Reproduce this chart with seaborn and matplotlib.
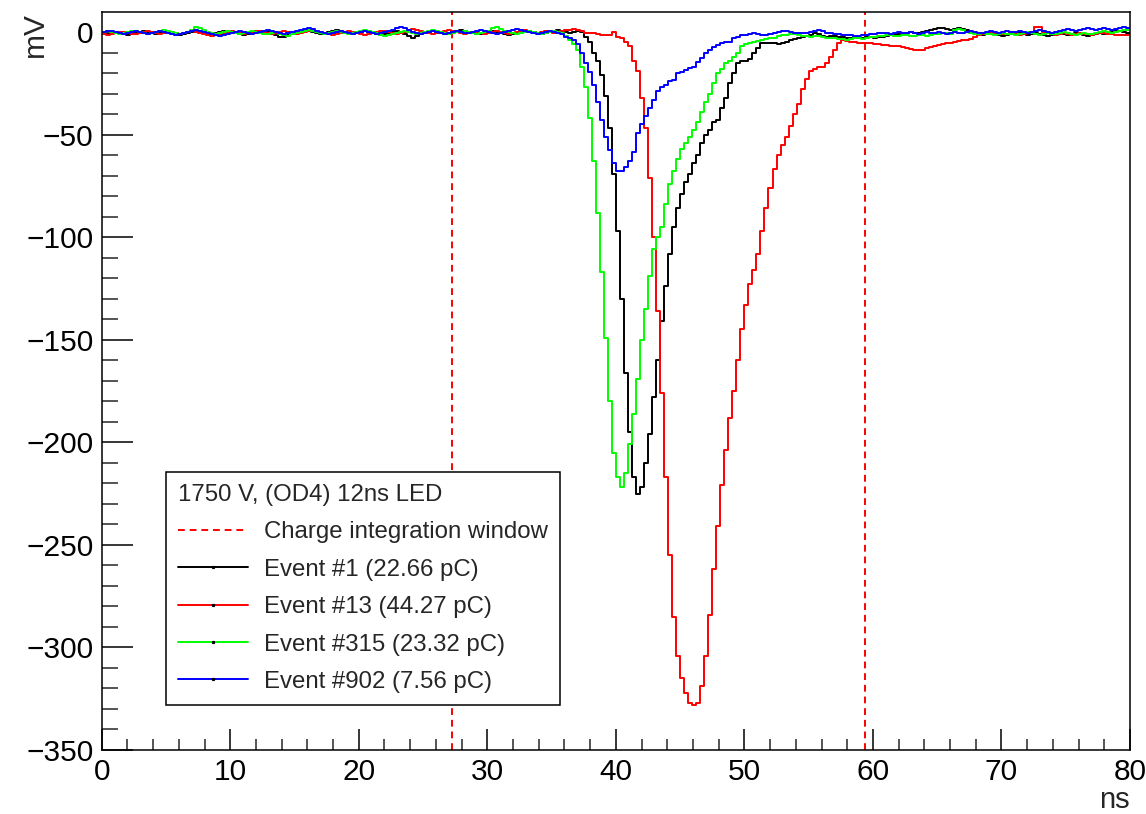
import numpy as np
import pandas as pd
import matplotlib
matplotlib.use("Agg")
import matplotlib.pyplot as plt
import seaborn as sns
from matplotlib.lines import Line2D
from matplotlib.ticker import MultipleLocator

# ---------------- data ----------------
BIN_WIDTH_NS = 0.3125          # 256 bins over 0..80 ns
window_ns = [27.25, 59.35]     # charge integration window
legend_header = "1750 V, (OD4) 12ns LED"
window_label = "Charge integration window"
event_names = ["Event #1 (22.66 pC)", "Event #13 (44.27 pC)",
               "Event #315 (23.32 pC)", "Event #902 (7.56 pC)"]
event_colors = ["#000000", "#ff0000", "#00ff00", "#0000ff"]

event1_mV = [
    -0.5, -1, -0.5, 0, -0.5, -1, -1.5, -1, -0.5, 0, 0.5, 0, -0.5, -1, -0.5, 0,
    0, -0.5, -1, -1.5, -1, -0.5, 0, 0.5, 0, -0.5, -1, -0.5, -0.5, 0, 0.5, 0.5,
    0, -0.5, -1, -1.5, -1, -0.5, -0.5, 0, 0.5, 0, -1, -1.5, -2.5, -2.5, -1.5, -1,
    -0.5, 0, 0.5, 0.5, 0, -0.5, -1, -0.5, 0, 0.5, 1, 0.5, 0, -0.5, -1, -0.5,
    0, 0.5, 0, -0.5, -1, -1.5, -1, -0.5, 0, 0.5, 0, -1, -2, -3, -2, -1,
    -0.5, 0, 0.5, 0, -0.5, -1, -0.5, 0, 0.5, 1, 0.5, 0, -0.5, -1, -1, -0.5,
    0, 0.5, 0, -0.5, -1, -1.5, -1, -0.5, 0, 0.5, 0.5, 0, -0.5, -1, -0.5, 0,
    0.5, 1, 0.5, 0, -0.5, 0, 0.5, 0, -2.4, -5, -10, -14, -21, -31, -47, -69,
    -97, -130, -166, -195, -217, -225, -222, -210, -196, -178, -160, -141, -124, -108, -95, -86,
    -79, -73, -69, -64, -60, -54, -50, -48, -44, -43, -37, -32, -25, -20, -15, -14,
    -14, -13, -10, -8, -5.5, -5.5, -5.5, -5.5, -6, -5.5, -5, -4, -3.5, -3, -2.4, -2,
    -1.5, -0.5, -1, -2, -2.5, -2, -2, -2.5, -2.5, -3, -3, -2.5, -3, -3, -2.5, -2.5,
    -3, -2.5, -2.5, -2, -1.5, -1.3, -1, -1, -0.5, 0, -0.5, -0.5, 0, 0.5, 1, 1.5,
    2, 2, 1.5, 1, 1.5, 2, 1.5, 1, 0, -0.5, -1, -1.5, -1, -0.5, -1, -1.5,
    -2, -1.5, -1, -1, -0.5, -1, -1.5, -1, -0.5, -1, -1.5, -2, -1.5, -1, -0.5, -1,
    -1.5, -1, -0.5, -1, -1.5, -2, -1.5, -1, -0.5, -1, -0.5, 0, 0.5, 0.5, 0, -0.5,
]

event13_mV = [
    -1, -1.5, -1, -0.5, 0, 0, -0.5, -1, -1, -0.5, 0, 0.5, 0, -0.5, -1, -0.5,
    0, 0, -0.5, -1, -0.5, 0, 0.5, 0, -0.5, -1, -1.5, -2, -1.5, -1, -0.5, 0,
    0.5, 0, -0.5, -1, -0.5, 0, 0.5, 0.5, 0, -0.5, -1, -0.5, 0, 0.5, 0, -0.5,
    -1, -0.5, 0, 0.5, 1, 0.5, 0, -0.5, -1, -1.5, -1, -0.5, 0, 0.5, 0, -0.5,
    -1, -1.5, -1, -0.5, 0, 0.5, 0.5, 0, -0.5, -1, -0.5, 0, 1, 1.5, 1, 0.5,
    0, -0.5, -1, -0.5, 0, 0.5, 1, 0.5, 0, -0.5, -1, -0.5, 0, 0, -0.5, -1,
    -0.5, 0, 0.5, 0, -0.5, -1, -0.5, 0, 0.5, 1, 0.5, 0, -0.5, 0, 0.5, 0,
    -0.5, 0, 0.5, 1, 1, 1.5, 1, 0.5, -0.5, -0.5, -0.5, -1, -1.5, -1.5, -1.5, 0,
    -2.4, -3, -5, -7, -14, -19, -32, -47, -71, -100, -136, -176, -217, -255, -285, -304,
    -315, -322, -327, -328, -327, -319, -304, -284, -262, -241, -221, -204, -188, -175, -160, -145,
    -133, -123, -116, -108, -97, -86, -76, -67, -60, -55, -51, -46, -40, -35, -28, -23,
    -19, -18, -17, -17, -15, -12, -9, -5.5, -4, -4.5, -5, -5, -5.5, -5.5, -5.5, -5.5,
    -6, -6, -6.5, -6.5, -7, -7, -7, -7.5, -8, -8.5, -9, -9, -9, -8, -7.5, -7,
    -6.5, -6, -5.5, -5.5, -5, -4.5, -4, -4, -3.5, -2.5, -1.5, -1, -1, -0.5, -1, -0.5,
    -1, -1, -0.5, -1, -1.5, -1, -0.5, 0, 2.4, 2.4, 0, -0.5, -1, -1.5, -1, -0.5,
    -1, -1.5, -1, -0.5, -1, -1, -1.5, -1, -0.5, -0.5, -1, -1, -1.5, -1.5, -1.5, -1.5,
]

event315_mV = [
    0, 0.5, 0, -0.5, -1, -0.5, 0, 0.5, 0.5, 0, -0.5, -1, -0.5, 0, 0.5, 1,
    0.5, 0, -0.5, -1, -0.5, 0, 1, 2.5, 2, 1, 0, -0.5, -1, -0.5, 0, 0.5,
    0, -0.5, -1, -0.5, 0, 0.5, 0, -0.5, -1, -1, -0.5, 0, -1, -1.5, -2, -1,
    -0.5, 0, 0.5, 1, 0.5, 0, -0.5, -1, -0.5, 0, 0.5, 0, -0.5, -1, -0.5, 0,
    0.5, 1, 0.5, 0, -0.5, -1.5, -2, -1.5, -1, -0.5, 0, 0.5, 0, -0.5, -1, -0.5,
    0, 0.5, 1, 0.5, 0, -0.5, -1, -0.5, 0, 0, 0.5, 0, -0.5, -1, -0.5, 0,
    0.5, 2, 2.5, 1.5, 0.5, 0, -0.5, -1, -0.5, 0, 0.5, 0, -0.5, -1, -0.5, 0,
    0.5, 0, -0.5, -2, -4, -6, -9, -17, -27, -42, -63, -88, -117, -149, -180, -205,
    -217, -222, -215, -201, -186, -169, -150, -135, -119, -106, -100, -95, -84, -74, -68, -62,
    -57, -54, -51, -48, -44, -39, -34, -30, -25, -20, -18, -15, -14, -12, -10, -7,
    -6, -5.5, -5, -4.5, -4, -3.5, -3, -3, -2, -1.5, -1.5, -1, -1, -1.5, -2, -2,
    -2.5, -2, -2, -2.5, -3, -3, -3, -3.5, -3.5, -4, -3.5, -3, -3, -3.5, -3, -2.5,
    -2.5, -2, -2, -1.5, -1.5, -2, -2, -1.5, -1.5, -2, -2, -1.5, -1.5, -2, -1.5, -1,
    -1, -0.5, -0.5, -1, 1, 1.5, 1, 0, -0.5, -1, -1, -0.5, -1, -1, -1.5, -1,
    -0.5, -1, -1, -1.5, -1, -0.5, 0, -0.5, -1, -1.5, -1, -0.5, -1, -1, -0.5, 0,
    -0.5, -1, -1.5, -1, -0.5, -1, -1, -0.5, 0, 0.5, 0, -0.5, 0, 0.5, 1, 1,
]

event902_mV = [
    0, 0.5, 0.5, 0, -0.5, -1, -0.5, 0, 0.5, 0, -0.5, -1, -0.5, 0, 0.5, 0,
    -0.5, -1, -1.5, -1, -0.5, 0, 0.5, 1, 0.5, 0, -0.5, -1, -1.5, -2, -1.5, -1,
    -0.5, 0, 0.5, 0, -0.5, -1, -0.5, 0, 0.5, 1, 0.5, 0, -0.5, -1, -0.5, 0,
    0.5, 1, 1.5, 2, 1.5, 0.5, 0, -0.5, -1, -0.5, 0, 0.5, 0, -0.5, -1, -0.5,
    0, 0.5, 0, -0.5, -1, -0.5, 0, 0.5, 1, 2, 2.5, 2, 1, 0, -0.5, -1,
    -0.5, 0, 0.5, 0, -0.5, -1, -0.5, 0, 0.5, 0, -0.5, -0.5, 0, 0.5, 1, 0.5,
    0, -0.5, -1, -0.5, 0, 0.5, 1, 1.5, 1, 0.5, 0, -0.5, -1, -0.5, 0, 0.5,
    0, -0.5, -1, -2.4, -3, -4, -6, -10, -15, -19.5, -26, -34, -43, -51, -57.5, -64,
    -68, -68, -66, -63, -58.5, -49, -45, -41, -37, -33, -29, -27, -26, -24, -23.5, -20,
    -19.5, -18.5, -17.5, -17, -14.6, -12.7, -10, -8.8, -7.3, -6.3, -5.4, -5, -4.9, -3, -2.4, -1.5,
    -1.5, -1, -0.5, -1, -1.5, -1.5, -1, -0.5, 0, 0.5, 0.5, 0, -0.5, -0.5, -0.5, -0.5,
    0, 0.5, 1, 0.5, -0.5, -0.5, -1, -1, -1.5, -1.5, -1.5, -2, -2, -1.5, -1.5, -1,
    -1, -0.5, -0.5, -0.5, -1, -0.5, 0, -0.5, -0.5, 0, -0.5, -1, -0.5, 0, -0.5, -0.5,
    0, -0.5, -1, -0.5, 0, -0.5, -0.5, 0, 0.5, 0, -0.5, -0.5, 0, 0.5, 0, -0.5,
    0, 0.5, 0, 0, 0.5, 0, -0.5, 0, 0.5, 1, 0.5, 0, -0.5, 0, 0.5, 1,
    1.5, 1, 0.5, 1, 1.5, 2, 1.5, 1, 1.5, 2, 1.5, 1, 1.5, 2, 2.5, 2,
]

series = [event1_mV, event13_mV, event315_mV, event902_mV]

# ---------------- build long table (bin edges + step values) ----------------
frames = []
for name, vals in zip(event_names, series):
    edges = np.arange(len(vals) + 1) * BIN_WIDTH_NS
    frames.append(pd.DataFrame({"t": edges, "v": list(vals) + [vals[-1]], "event": name}))
df = pd.concat(frames, ignore_index=True)

# ---------------- style ----------------
sns.set_style("white")
plt.rcParams["font.family"] = ["Liberation Sans", "DejaVu Sans"]
plt.rcParams["axes.linewidth"] = 1.1

W, H = 1146, 814
fig = plt.figure(figsize=(W / 100, H / 100), dpi=100)
ax_l, ax_r, ax_t, ax_b = 101.7, 1130.0, 12.0, 750.0
ax = fig.add_axes([ax_l / W, 1 - ax_b / H, (ax_r - ax_l) / W, (ax_b - ax_t) / H])

dash = (0, (3.5, 2.5))
for xw in window_ns:
    ax.axvline(xw, color="#ff0000", lw=1.4, ls=dash, zorder=1)

sns.lineplot(data=df, x="t", y="v", hue="event", hue_order=event_names,
             palette=dict(zip(event_names, event_colors)), estimator=None,
             sort=False, drawstyle="steps-post", lw=1.4, legend=False, ax=ax, zorder=2)

ax.set_xlim(0, 80)
ax.set_ylim(-350, 9.75)
ax.xaxis.set_major_locator(MultipleLocator(10))
ax.xaxis.set_minor_locator(MultipleLocator(2))
ax.yaxis.set_major_locator(MultipleLocator(50))
ax.yaxis.set_minor_locator(MultipleLocator(10))
for s in ax.spines.values():
    s.set_visible(True)
    s.set_color("black")
    s.set_linewidth(1.1)

ax.tick_params(axis="x", which="major", direction="in", length=15, width=1.1,
               labelsize=21.5, pad=6, top=False, bottom=True, colors="black")
ax.tick_params(axis="x", which="minor", direction="in", length=8, width=1.1,
               top=False, bottom=True)
ax.tick_params(axis="y", which="major", direction="in", length=22, width=1.1,
               labelsize=21.5, pad=6, right=False, left=True, colors="black")
ax.tick_params(axis="y", which="minor", direction="in", length=11.5, width=1.1,
               right=False, left=True)

ax.set_xlabel("ns", loc="right", fontsize=21)
ax.xaxis.set_label_coords(1.0, -0.049)
ax.set_ylabel("mV", loc="top", fontsize=21.5)
ax.yaxis.set_label_coords(-0.051, 1.0)

handles = [Line2D([], [], color="#ff0000", lw=1.4, ls=dash)]
for c in event_colors:
    handles.append(Line2D([], [], color=c, lw=1.4, marker="s", ms=1.3,
                          mfc="black", mec="black"))
labels = [window_label] + event_names
leg = ax.legend(handles, labels, title=legend_header, alignment="left",
                loc="upper left", bbox_to_anchor=(166 / W, 1 - 472 / H),
                bbox_transform=fig.transFigure, borderaxespad=0, borderpad=0.5,
                labelspacing=0.64, handlelength=2.9, handletextpad=0.67,
                fontsize=17.3, title_fontsize=17.3, frameon=True, fancybox=False,
                framealpha=1, edgecolor="black", facecolor="white", numpoints=1)
leg.get_frame().set_linewidth(1.1)
leg.set_zorder(5)

fig.savefig("out.png", dpi=100)
